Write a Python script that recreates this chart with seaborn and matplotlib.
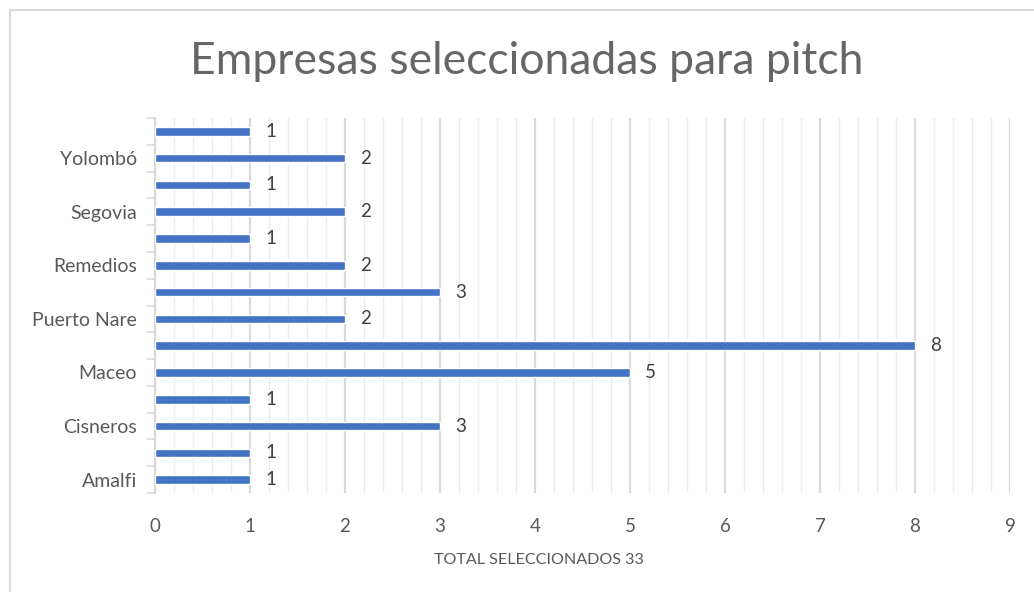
import matplotlib
matplotlib.use("Agg")
import matplotlib.pyplot as plt
import seaborn as sns
import pandas as pd
from matplotlib.ticker import MultipleLocator
from matplotlib.patches import Rectangle

# data, top to bottom
bar_ids = [f"b{i}" for i in range(14)]
labels = ["", "Yolombó", "", "Segovia", "", "Remedios", "", "Puerto Nare",
          "", "Maceo", "", "Cisneros", "", "Amalfi"]
values = [1, 2, 1, 2, 1, 2, 3, 2, 8, 5, 1, 3, 1, 1]
title = "Empresas seleccionadas para pitch"
xlabel = "TOTAL SELECCIONADOS 33"

sns.set_theme(style="white")
plt.rcParams['font.family'] = ['Lato', 'DejaVu Sans']

df = pd.DataFrame({"id": bar_ids, "value": values})

fig = plt.figure(figsize=(10.34, 5.92), dpi=100)
fig.patches.append(Rectangle((10/1034, -0.2), 1.2, 1.2 - 10/592, transform=fig.transFigure,
                             fill=False, edgecolor="#D9D9D9", linewidth=1.5))
ax = fig.add_axes([155/1034, 1 - 493/592, 855/1034, (493 - 118)/592])

sns.barplot(data=df, x="value", y="id", order=bar_ids, orient="h",
            color="#4472C4", saturation=1, width=0.32, ax=ax, zorder=3)

ax.set_xlim(0, 9)
ax.set_ylim(13.5, -0.5)
ax.xaxis.set_major_locator(MultipleLocator(1))
ax.xaxis.set_minor_locator(MultipleLocator(0.2))
ax.grid(which="major", axis="x", color="#D9D9D9", linewidth=1.6, zorder=0)
ax.grid(which="minor", axis="x", color="#EBEBEB", linewidth=1.0, zorder=0)
ax.grid(False, axis="y")
ax.set_axisbelow(True)

ax.set_yticks(range(14))
ax.set_yticklabels(labels)
ax.set_yticks([i + 0.5 for i in range(-1, 14)], minor=True)
ax.tick_params(axis="y", which="major", length=0, pad=13, labelsize=14, labelcolor="#595959")
ax.tick_params(axis="y", which="minor", length=6, color="#D9D9D9", width=1.2, left=True)
ax.tick_params(axis="x", which="both", length=0, pad=18, labelsize=13.5, labelcolor="#595959")

for s in ["top", "right", "bottom"]:
    ax.spines[s].set_visible(False)
ax.spines["left"].set_color("#D9D9D9")
ax.spines["left"].set_linewidth(1.5)

for c in ax.containers:
    ax.bar_label(c, fmt="%d", padding=11, fontsize=13.5, color="#404040")

ax.set_xlabel(xlabel, fontsize=11.6, color="#595959")
ax.xaxis.set_label_coords((539 - 155) / 855, -(553 - 493) / 375)
ax.set_ylabel("")
fig.text(527/1034, 1 - 62/592, title, ha="center", va="center",
         fontsize=32, color="#666666", fontweight="normal")

fig.savefig("out.png", dpi=100)
